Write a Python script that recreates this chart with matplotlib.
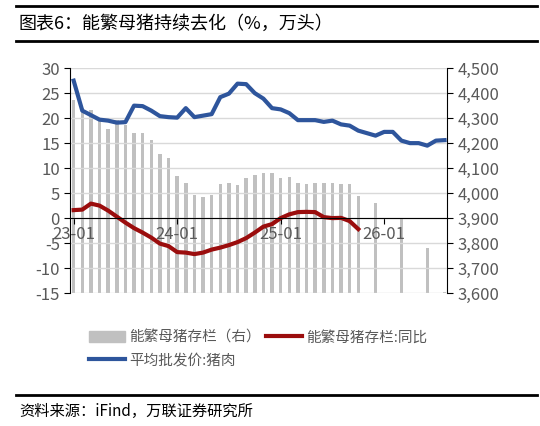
import numpy as np
import matplotlib
matplotlib.use("Agg")
import matplotlib.pyplot as plt
from matplotlib.lines import Line2D
from matplotlib.patches import Patch

plt.rcParams['font.family'] = ['Noto Sans CJK SC', 'DejaVu Sans']
plt.rcParams['axes.unicode_minus'] = False

# month index 0 = 2023-01, 43 = 2026-08
months = np.arange(44)
tick_pos = [0, 12, 24, 36]
tick_labels = ["23-01", "24-01", "25-01", "26-01"]

# 能繁母猪存栏 (万头, right axis); NaN where no bar
sow_stock = [4374, 4342, 4332, 4291, 4257, 4291, 4271, 4240, 4240, 4211, 4157, 4141,
             4067, 4042, 3991, 3985, 3994, 4037, 4039, 4034, 4061, 4071, 4080, 4080,
             4060, 4065, 4040, 4038, 4042, 4042, 4040, 4037, 4035, 3990, np.nan, 3960,
             np.nan, np.nan, 3900, np.nan, np.nan, 3780, np.nan, 3605]

# 能繁母猪存栏:同比 (%), 23-01 .. 25-10
sow_yoy = [1.6, 1.7, 2.9, 2.5, 1.5, 0.3, -0.9, -2.0, -2.9, -3.9, -5.1, -5.6,
           -6.8, -6.9, -7.2, -6.9, -6.3, -5.9, -5.4, -4.8, -4.0, -2.9, -1.7, -1.2,
           0.0, 0.75, 1.2, 1.25, 1.2, 0.2, 0.0, 0.05, -0.6, -2.2]

# 平均批发价:猪肉 (元/kg, left axis)
pork_price = [27.5, 21.5, 20.6, 19.7, 19.5, 19.1, 19.2, 22.5, 22.4, 21.5, 20.4, 20.2,
              20.1, 22.0, 20.2, 20.5, 20.8, 24.2, 24.9, 26.9, 26.8, 25.0, 23.9, 22.0,
              21.75, 21.0, 19.6, 19.6, 19.6, 19.25, 19.5, 18.75, 18.5, 17.5, 17.0, 16.5,
              17.25, 17.25, 15.5, 15.0, 15.0, 14.5, 15.5, 15.6]

fig = plt.figure(figsize=(5.4, 4.26), dpi=100)
ax = fig.add_axes([0.13, 0.312, 0.698, 0.528])
ax2 = ax.twinx()

stock = np.array(sow_stock, dtype=float)
ax2.bar(months, stock - 3600, bottom=3600, width=0.4, color="#c0c0c0")
ax2.set_ylim(3600, 4500)
ax2.set_yticks(np.arange(3600, 4501, 100))
ax2.set_yticklabels([f"{v:,}" for v in range(3600, 4501, 100)])

ax.set_zorder(ax2.get_zorder() + 1)
ax.patch.set_visible(False)
ax.plot(months[:len(sow_yoy)], sow_yoy, color="#9b0d0d", lw=3)
ax.plot(months, pork_price, color="#2e559c", lw=3)
ax.set_ylim(-15, 30)
ax.set_yticks(np.arange(-15, 31, 5))
ax.set_xlim(-0.4, 43.3)
ax.set_xticks(tick_pos)
ax.set_xticklabels(tick_labels)
ax.grid(axis="y", color="#d9d9d9", lw=1)
ax.set_axisbelow(True)

ax.spines["bottom"].set_position(("data", 0))
for a in (ax, ax2):
    a.spines["top"].set_visible(False)
    a.tick_params(labelsize=12, length=4)
ax.spines["right"].set_visible(False)
ax2.spines["left"].set_visible(False)
ax2.spines["bottom"].set_visible(False)
ax.tick_params(axis="both", colors="black", labelcolor="#595959")
ax2.tick_params(axis="y", colors="black", labelcolor="#595959")
ax.tick_params(axis="x", pad=2)

handles = [Patch(color="#c0c0c0"),
           Line2D([], [], color="#2e559c", lw=3),
           Line2D([], [], color="#9b0d0d", lw=3)]
labels = ["能繁母猪存栏（右）", "平均批发价:猪肉", "能繁母猪存栏:同比"]
fig.legend(handles, labels, ncol=2, loc="upper left", bbox_to_anchor=(0.14, 0.255),
           frameon=False, fontsize=10.5, labelcolor="#595959", handlelength=2.5,
           handletextpad=0.3, columnspacing=0.3, labelspacing=0.6)

fig.add_artist(Line2D([0.03, 0.995], [0.986, 0.986], color="black", lw=2))
fig.add_artist(Line2D([0.03, 0.995], [0.904, 0.904], color="black", lw=2))
fig.add_artist(Line2D([0.03, 0.995], [0.073, 0.073], color="black", lw=2))
fig.text(0.035, 0.943, "图表6：能繁母猪持续去化（%，万头）", fontsize=13, va="center")
fig.text(0.035, 0.035, "资料来源：iFind，万联证券研究所", fontsize=11, va="center",
         style="italic")

fig.savefig("out.png", dpi=100)
